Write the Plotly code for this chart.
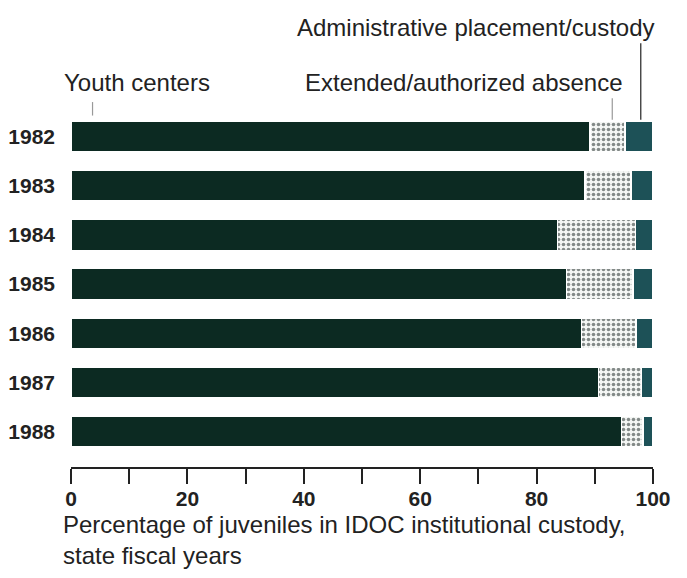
import plotly.graph_objects as go

years = ["1982", "1983", "1984", "1985", "1986", "1987", "1988"]
youth_centers = [89.2, 88.3, 83.6, 85.1, 87.7, 90.6, 94.6]
extended_absence = [6.0, 7.9, 13.4, 11.5, 9.4, 7.4, 3.7]
admin_custody = [4.8, 3.8, 3.0, 3.4, 2.9, 2.0, 1.7]

font = "Liberation Sans, Arial, Helvetica, sans-serif"

fig = go.Figure()
fig.add_trace(go.Bar(y=years, x=youth_centers, orientation="h", name="Youth centers",
                     marker=dict(color="#0c2a22", line=dict(color="white", width=1.5))))
fig.add_trace(go.Bar(y=years, x=extended_absence, orientation="h", name="Extended/authorized absence",
                     marker=dict(color="#f4f6f4", line=dict(color="white", width=1.5),
                                 pattern=dict(shape=".", fgcolor="#101c19", bgcolor="#f4f6f4",
                                              size=5, solidity=0.4))))
fig.add_trace(go.Bar(y=years, x=admin_custody, orientation="h", name="Administrative placement/custody",
                     marker=dict(color="#1d5157", line=dict(color="white", width=1.5))))

# labels with leader lines (positions as fraction of the plot width)
labels = [
    ("Administrative placement/custody", 1.007, 1.237, "right", 0.979, 1.194, 0.978, "#222"),
    ("Extended/authorized absence", 0.952, 1.082, "right", 0.930, 1.039, 0.978, "#999"),
    ("Youth centers", -0.015, 1.082, "left", 0.037, 1.028, 0.99, "#999"),
]
for text, tx, ty, anchor, lx, ly0, ly1, lc in labels:
    fig.add_annotation(text=text, x=tx, y=ty, xref="paper", yref="paper", xanchor=anchor,
                       yanchor="middle", showarrow=False,
                       font=dict(family=font, size=24, color="#222"))
    fig.add_shape(type="line", x0=lx, x1=lx, y0=ly0, y1=ly1, xref="paper", yref="paper",
                  line=dict(color=lc, width=1.2))

fig.add_annotation(text="Percentage of juveniles in IDOC institutional custody,<br>state fiscal years",
                   x=-0.015, y=-0.122, xref="paper", yref="paper", xanchor="left", yanchor="top",
                   align="left", showarrow=False, borderpad=0,
                   font=dict(family=font, size=24, color="#222"))

fig.update_layout(
    barmode="stack",
    bargap=0.37,
    width=687, height=578,
    margin=dict(l=63, r=42, t=104, b=119, autoexpand=False),
    paper_bgcolor="white", plot_bgcolor="white",
    showlegend=False,
    font=dict(family=font, color="#222"),
)
fig.update_xaxes(range=[0, 100], dtick=20, ticks="outside", ticklen=15, tickwidth=2,
                 tickcolor="#222", showline=True, linecolor="#222", linewidth=2,
                 showgrid=False, zeroline=False, automargin=False, ticklabelstandoff=-3,
                 minor=dict(dtick=10, ticks="outside", ticklen=15, tickwidth=2, tickcolor="#222"),
                 tickfont=dict(family=font, size=21, color="#222", weight="bold"))
fig.update_yaxes(categoryorder="array", categoryarray=years, range=[6.72, -0.5],
                 showgrid=False, zeroline=False, showline=False, ticks="",
                 ticklabelstandoff=15, automargin=False,
                 tickfont=dict(family=font, size=21, color="#222", weight="bold"))

fig.write_html("out.html")
